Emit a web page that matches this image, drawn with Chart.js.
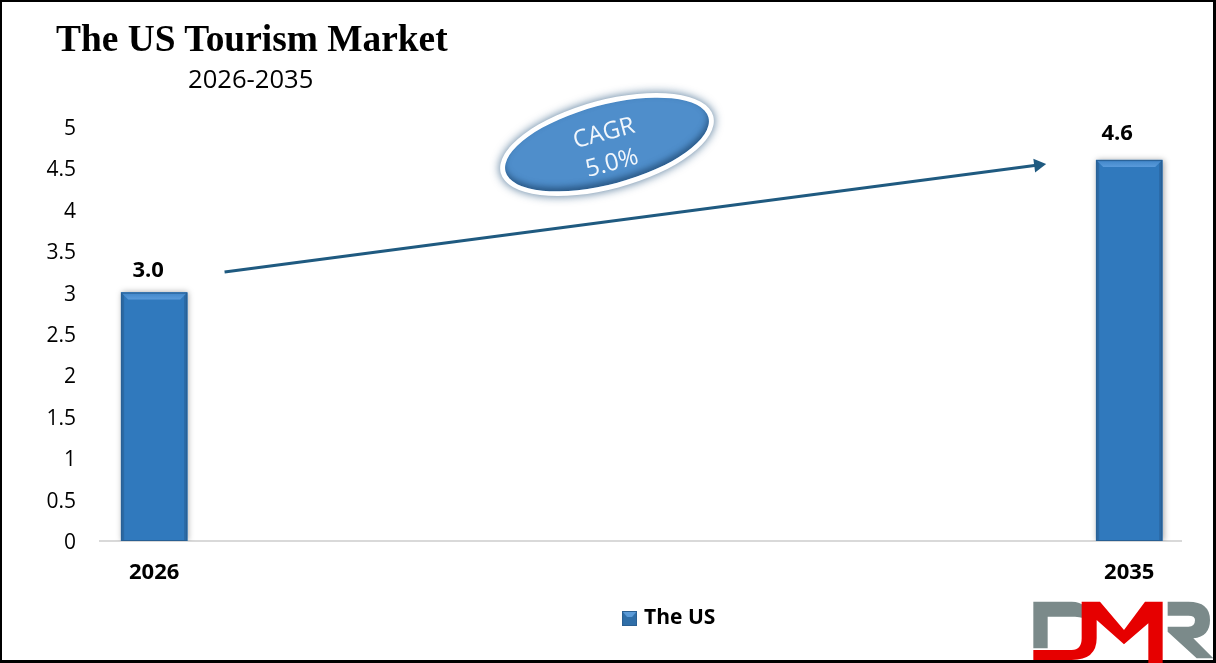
<!DOCTYPE html>
<html>
<head>
<meta charset="utf-8">
<title>The US Tourism Market</title>
<script src="https://cdn.jsdelivr.net/npm/chart.js@4"></script>
<style>
  html, body { margin: 0; background: #fff; }
  #wrap { position: relative; width: 1216px; height: 663px; overflow: hidden; }
  #frame { position: absolute; inset: 0; border: solid #000; border-width: 2px 3px 3px 2px; pointer-events: none; }
  #title { position: absolute; left: 56px; top: 17px; font: bold 37.4px "Liberation Serif", serif; color: #000; white-space: nowrap; }
  #sub { position: absolute; left: 188px; top: 61px; font: 25.6px "Open Sans", sans-serif; color: #000; white-space: nowrap; }
  #badge {
    position: absolute; left: 496.5px; top: 100px; width: 210px; height: 77px; padding-top: 2px;
    border: 5px solid #fff; border-radius: 50%; transform: rotate(-15deg);
    background: #4f8ecb; color: #f2f7fc; text-align: center;
    font: 24px/31px "Open Sans", sans-serif;
    box-shadow: 0 0 9px 1px rgba(31,78,121,.65), inset 0 -4px 6px rgba(30,70,110,.75);
    display: flex; flex-direction: column; justify-content: center;
  }
  #logo { position: absolute; left: 1025px; top: 595px; }
  canvas { position: absolute; left: 0; top: 0; }
</style>
</head>
<body>
<div id="wrap">
  <canvas id="chart" width="1216" height="663"></canvas>
  <div id="title">The US Tourism Market</div>
  <div id="sub">2026-2035</div>
  <div id="badge"><div>CAGR</div><div>5.0%</div></div>
  <div id="frame"></div>
  <svg id="logo" width="191" height="68" viewBox="0 0 573 204">
    <path fill="#7b8a8a" d="M25 20H140Q165 20 180 35V70Q160 65 150 65H68V160H25Z"/>
    <path fill="#e60000" d="M25 165H140Q170 165 170 130V20H225L297 105L360 20H413V204H370V85L297 148L215 75V130Q215 195 140 195H25Z"/>
    <path fill="#7b8a8a" d="M428 20H490Q555 20 555 75Q555 125 505 130L565 190H515L428 110V95H490Q510 95 510 75Q510 62 490 62H428Z"/>
  </svg>
</div>
<script>
"use strict";

const categories = ["2026", "2035"];
const marketValues = [3.0, 4.6];
const valueLabels = ["3.0", "4.6"];
const yTicks = [0, 0.5, 1, 1.5, 2, 2.5, 3, 3.5, 4, 4.5, 5];
const seriesName = "The US";
const arrowYears = [2026.65, 2034.16];
const arrowValues = [3.25, 4.54];

const FONT = '"Open Sans", sans-serif';

// little bevelled square for the legend
function legendSwatch() {
  const c = document.createElement("canvas");
  c.width = 15; c.height = 15;
  const x = c.getContext("2d");
  x.fillStyle = "#2f6ea8";
  x.fillRect(0, 0, 15, 15);
  x.fillStyle = "#5b9bd8";
  x.beginPath(); x.moveTo(0, 0); x.lineTo(15, 0); x.lineTo(10, 6); x.lineTo(5, 6); x.fill();
  x.strokeStyle = "#2a5f92";
  x.strokeRect(0.5, 0.5, 14, 14);
  return c;
}
const swatch = legendSwatch();

const barStyle = {
  id: "barStyle",
  afterUpdate(chart) {
    // legend sits right of the canvas centre in the original
    chart.legend.left += 80;
    chart.legend.right += 80;
    // y labels sit a touch lower than canvas "middle" gives
    chart.scales.y.getLabelItems().forEach((item) => { item.options.translation[1] += 2; });
  },
  beforeDatasetDraw(chart, args) {
    if (args.index !== 0) return;
    const ctx = chart.ctx;
    ctx.save();
    ctx.shadowColor = "rgba(0,0,0,0.35)";
    ctx.shadowBlur = 6;
    ctx.shadowOffsetX = 1;
  },
  afterDatasetDraw(chart, args) {
    if (args.index !== 0) return;
    const ctx = chart.ctx;
    ctx.restore();
    const labelShift = [[-6, -22], [-12, -26]];
    args.meta.data.forEach((bar, i) => {
      const l = bar.x - bar.width / 2, r = bar.x + bar.width / 2;
      const base = bar.base;
      ctx.fillStyle = "#3079bd";
      ctx.fillRect(l, bar.y, bar.width, base - bar.y);
      // dark side bevels
      ctx.fillStyle = "#2b69a4";
      ctx.fillRect(l, bar.y, 3, base - bar.y);
      ctx.fillRect(r - 3, bar.y, 3, base - bar.y);
      // light top bevel
      const g = ctx.createLinearGradient(0, bar.y, 0, bar.y + 7);
      g.addColorStop(0, "#3f85c8");
      g.addColorStop(1, "#5a9bdb");
      ctx.fillStyle = g;
      ctx.beginPath();
      ctx.moveTo(l, bar.y); ctx.lineTo(r, bar.y); ctx.lineTo(r - 7, bar.y + 7); ctx.lineTo(l + 7, bar.y + 7);
      ctx.fill();
      ctx.strokeStyle = "#285f93";
      ctx.lineWidth = 1;
      ctx.strokeRect(l + 0.5, bar.y + 0.5, bar.width - 1, base - bar.y - 1);

      ctx.fillStyle = "#000";
      ctx.font = "bold 22px " + FONT;
      ctx.textAlign = "center";
      ctx.textBaseline = "middle";
      ctx.fillText(valueLabels[i], bar.x + labelShift[i][0], bar.y + labelShift[i][1]);
    });
  },
};

new Chart(document.getElementById("chart"), {
  data: {
    datasets: [
      {
        type: "bar",
        label: seriesName,
        data: categories.map((c, i) => ({ x: Number(c), y: marketValues[i] })),
        backgroundColor: "#3079bd",
        barThickness: 66,
        order: 2,
      },
      {
        type: "line",
        label: "CAGR arrow",
        data: arrowYears.map((x, i) => ({ x, y: arrowValues[i] })),
        borderColor: "#1f5a80",
        backgroundColor: "#1f5a80",
        borderWidth: 3,
        pointStyle: "triangle",
        pointRadius: [0, 8],
        pointBorderWidth: 0,
        pointRotation: [0, 82.6],
        order: 1,
      },
    ],
  },
  options: {
    responsive: false,
    animation: false,
    layout: { padding: { top: 127, right: 35, bottom: 24, left: 0 } },
    plugins: {
      tooltip: { enabled: false },
      title: { display: false },
      legend: {
        position: "bottom",
        labels: {
          generateLabels: () => [{ text: seriesName, pointStyle: swatch, datasetIndex: 0, fontColor: "#000" }],
          usePointStyle: true,
          boxWidth: 8,
          color: "#000",
          padding: 4,
          font: { family: FONT, size: 21, weight: "bold" },
        },
      },
    },
    scales: {
      x: {
        type: "linear",
        min: 2025.5,
        max: 2035.478,
        offset: false,
        grid: { display: false },
        border: { color: "#d9d9d9", width: 2 },
        afterBuildTicks: (axis) => { axis.ticks = categories.map((c) => ({ value: Number(c) })); },
        afterFit: (axis) => { axis.height = 63; },
        ticks: {
          color: "#000",
          padding: 11,
          maxRotation: 0,
          autoSkip: false,
          font: { family: FONT, size: 22, weight: "bold" },
          callback: (v) => String(v),
        },
      },
      y: {
        min: 0,
        max: 5,
        grid: { display: false, drawTicks: false },
        border: { display: false },
        afterBuildTicks: (axis) => { axis.ticks = yTicks.map((value) => ({ value })); },
        afterFit: (axis) => { axis.width = 100; },
        ticks: {
          color: "#000",
          padding: 24,
          font: { family: FONT, size: 21 },
          callback: (v) => String(v),
        },
      },
    },
  },
  plugins: [barStyle],
});
</script>
</body>
</html>
